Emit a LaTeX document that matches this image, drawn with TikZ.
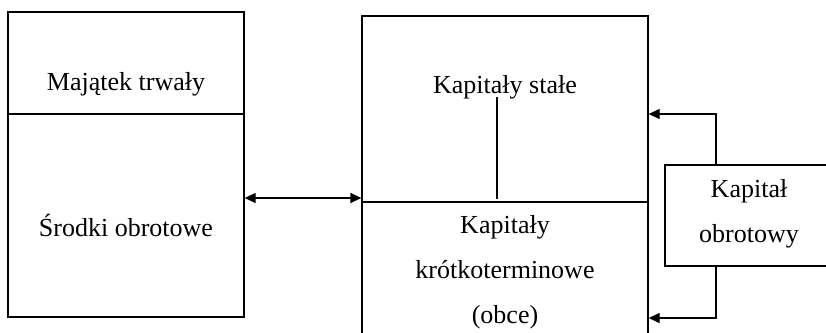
\documentclass[tikz,border=0pt]{standalone}
\usepackage{fontspec}
\setmainfont{Liberation Serif}
\usetikzlibrary{arrows.meta}
\begin{document}
\begin{tikzpicture}[x=1pt,y=-1pt,
  box/.style={draw, line width=1.3pt, rectangle, inner sep=0pt},
  lbl/.style={font=\fontsize{26}{45}\selectfont, align=center, inner sep=0pt, anchor=base},
  link/.style={line width=1.3pt},
  tip/.style={-{Triangle[length=11pt,width=10pt]}},
  tips/.style={{Triangle[length=11pt,width=10pt]}-{Triangle[length=11pt,width=10pt]}}]
\useasboundingbox (0,0) rectangle (826,332);
\clip (0,0) rectangle (826,332);

% assets column
\node[box, minimum width=236pt, minimum height=102pt] (fixedA) at (126,63) {};
\node[box, minimum width=236pt, minimum height=203pt] (currA) at (126,215.5) {};
% capital column
\node[box, minimum width=286pt, minimum height=186pt] (longC) at (505,109) {};
\node[box, minimum width=286pt, minimum height=143pt] (shortC) at (505,273.5) {};
% working capital
\node[box, minimum width=175pt, minimum height=101pt] (workC) at (752.5,215.5) {};

% labels (multi-line labels sit on the baseline of their last line)
\node[lbl] (tFixed) at (126,90) {Majątek trwały};
\node[lbl] (tCurr) at (126,236) {Środki obrotowe};
\node[lbl] (tLong) at (505,93) {Kapitały stałe};
\node[lbl] (tShort) at (505,323) {Kapitały\\krótkoterminowe\\(obce)};
\node[lbl] (tWork) at (749,242) {Kapitał\\obrotowy};

% helper coordinates
\coordinate (midY) at (0,198);
\coordinate (topY) at (0,114);
\coordinate (botY) at (0,318);
\coordinate (feedX) at (716,0);
\coordinate (splitTop) at (497,97);
\coordinate (splitBot) at (497,199);

% connectors
\draw[link,tips] (currA.east |- midY) -- (longC.west |- midY);
\draw[link] (splitTop) -- (splitBot);
\draw[link,tip] (workC.north -| feedX) |- (longC.east |- topY);
\draw[link,tip] (workC.south -| feedX) |- (shortC.east |- botY);
\end{tikzpicture}
\end{document}
